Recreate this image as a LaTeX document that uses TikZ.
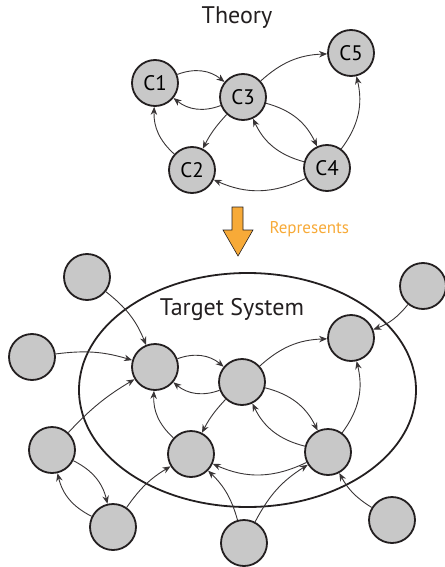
\documentclass[tikz,border=0pt]{standalone}
\usepackage{fontspec}
\setmainfont{PT Sans}
\usetikzlibrary{arrows.meta}

\definecolor{nodegray}{RGB}{200,200,200}
\definecolor{ink}{RGB}{35,31,32}
\definecolor{represent}{RGB}{247,170,56}

\begin{document}
\begin{tikzpicture}[x=1pt, y=-1pt,
    concept/.style={circle, draw=ink, line width=1.8pt, fill=nodegray, minimum size=46pt, inner sep=0pt, font=\fontsize{21}{24}\selectfont},
    link/.style={-{Stealth[length=8pt, width=6.5pt]}, draw=ink!90, line width=0.9pt},
    heading/.style={font=\fontsize{24}{28}\selectfont, text=ink}
]
    \useasboundingbox (0,0) rectangle (444,567);

    % the theory
    \node[heading] (theory) at (237,18) {Theory};
    \node[concept] (c1) at (155,83) {C1};
    \node[concept] (c3) at (243,97) {C3};
    \node[concept] (c5) at (351,53) {C5};
    \node[concept] (c2) at (192,170) {C2};
    \node[concept] (c4) at (327,168) {C4};

    \draw[link] (c1) to[bend left=30] (c3);
    \draw[link] (c3) to[bend left=30] (c1);
    \draw[link] (c3) to[bend left=20] (c5);
    \draw[link] (c3) to[bend left=25] (c4);
    \draw[link] (c4) to[bend left=25] (c3);
    \draw[link] (c3) to[bend right=8] (c2);
    \draw[link] (c2) to[bend left=25] (c1);
    \draw[link] (c4) to[bend left=25] (c2);
    \draw[link] (c4) to[bend right=25] (c5);

    % represents arrow
    \filldraw[fill=represent, draw=ink, line width=0.6pt]
        (232,207) -- (243,207) -- (243,230) -- (253,230) -- (238,256)
        -- (223,230) -- (232,230) -- cycle;
    \node[anchor=west, text=represent, font=\fontsize{17}{20}\selectfont] (rep) at (266,229) {Represents};

    % the target system
    \draw[draw=ink, line width=1.8pt] (247.5,390) ellipse [x radius=168.5, y radius=117];
    \node[heading] (target) at (232,309) {Target System};

    \node[concept] (s1) at (155,367) {};
    \node[concept] (s3) at (242,382) {};
    \node[concept] (s5) at (351,338) {};
    \node[concept] (s2) at (191,454) {};
    \node[concept] (s4) at (328,452) {};

    \node[concept] (o1) at (87,277) {};
    \node[concept] (o2) at (32,357) {};
    \node[concept] (o3) at (52,450) {};
    \node[concept] (o4) at (113,527) {};
    \node[concept] (o5) at (244,543) {};
    \node[concept] (o6) at (392,520) {};
    \node[concept] (o7) at (423,286) {};

    \draw[link] (s1) to[bend left=30] (s3);
    \draw[link] (s3) to[bend left=30] (s1);
    \draw[link] (s3) to[bend left=20] (s5);
    \draw[link] (s3) to[bend left=25] (s4);
    \draw[link] (s4) to[bend left=25] (s3);
    \draw[link] (s3) to[bend right=8] (s2);
    \draw[link] (s2) to[bend left=25] (s1);
    \draw[link] (s4) to[bend left=25] (s2);
    \draw[link] (s4) to[bend right=25] (s5);

    % outside influences
    \draw[link] (o1) to[bend left=15] (s1);
    \draw[link] (o2) to[bend left=12] (s1);
    \draw[link] (o3) to[bend left=8] (s1);
    \draw[link] (o3) to[bend left=25] (o4);
    \draw[link] (o4) to[bend left=25] (o3);
    \draw[link] (o4) to[bend left=12] (s2);
    \draw[link] (o5) to[bend right=15] (s2);
    \draw[link] (o5) to[bend left=15] (s4);
    \draw[link] (o6) to[bend left=15] (s4);
    \draw[link] (o7) to[bend left=15] (s5);

\end{tikzpicture}
\end{document}
